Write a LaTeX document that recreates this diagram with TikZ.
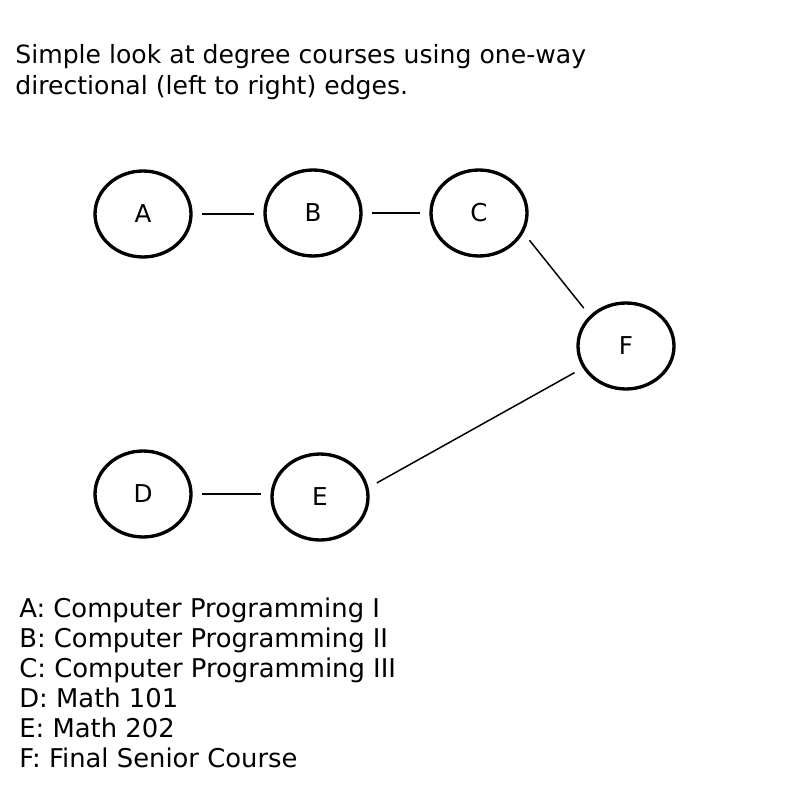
\documentclass[tikz,border=0pt]{standalone}
\usepackage{fontspec}
\setmainfont{DejaVu Sans}
\usepackage{tikz}
\usetikzlibrary{positioning,shapes.geometric}
\tikzset{
  course/.style={ellipse, draw=black, line width=1.9pt, minimum width=1.92cm, minimum height=1.72cm, inner sep=0pt, font=\fontsize{14}{17}\selectfont},
  edge/.style={line width=0.85pt, draw=black, shorten <=0.19cm, shorten >=0.19cm},
  caption/.style={align=left, inner sep=0pt, anchor=north west}
}
\begin{document}
\begin{tikzpicture}[x=0.02cm,y=-0.02cm]
\useasboundingbox[fill=white] (0,0) rectangle (800,800);
\node[caption, font=\fontsize{14.3}{17.8}\selectfont] (title) at (15,44) {Simple look at degree courses using one-way\\directional (left to right) edges.};
% course nodes
\node[course] (A) at (143,214) {A};
\node[course] (B) at (313,213) {B};
\node[course] (C) at (479,213) {C};
\node[course] (F) at (626,346) {F};
\node[course] (D) at (143,494) {D};
\node[course] (E) at (320,497) {E};
% edges
\draw[edge] (A.east) -- (A.east -| B.west);
\draw[edge] (B) -- (C);
\draw[edge] (C.-24) -- (F.140);
\draw[edge] (D.east) -- (D.east -| E.west);
\draw[edge] (E.11) -- (F.207);
\node[caption, font=\fontsize{14.7}{17}\selectfont] (legend) at (19,598) {A: Computer Programming I\\B: Computer Programming II\\C: Computer Programming III\\D: Math 101\\E: Math 202\\F: Final Senior Course};
\end{tikzpicture}
\end{document}
